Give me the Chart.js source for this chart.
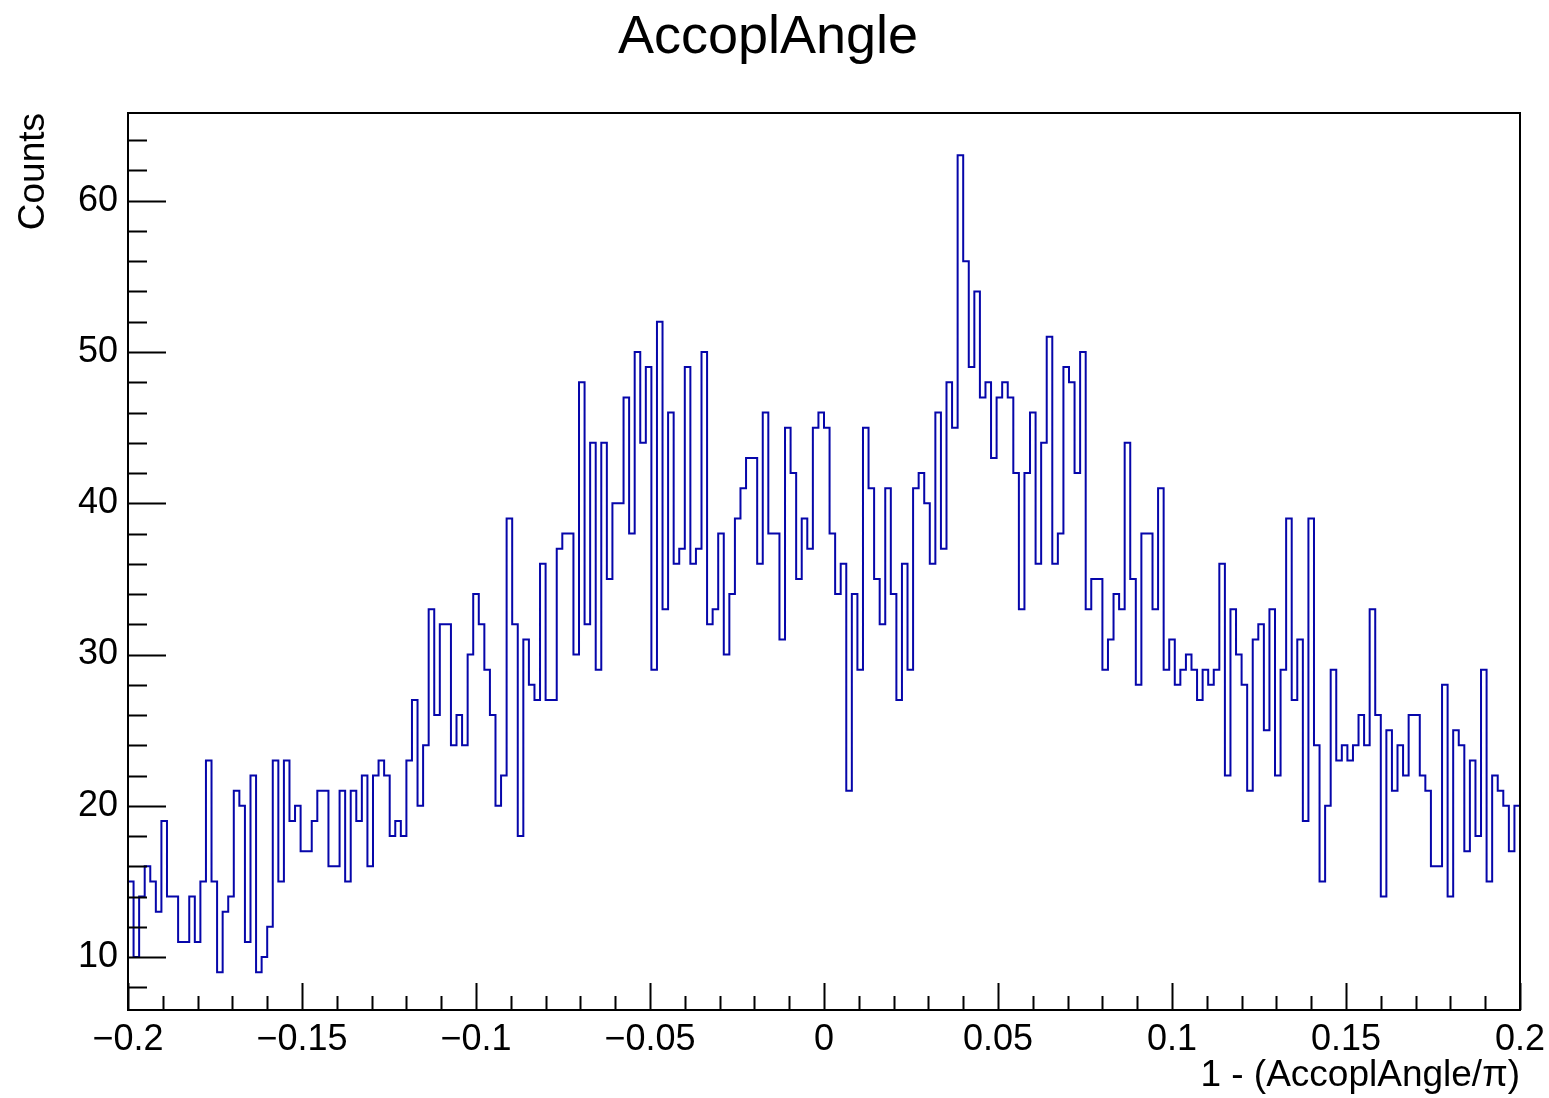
<!DOCTYPE html>
<html>
<head>
<meta charset="utf-8">
<script src="https://cdn.jsdelivr.net/npm/chart.js@4.4.0/dist/chart.umd.min.js"></script>
<style>
  html, body { margin: 0; padding: 0; background: #fff; }
  #wrap { width: 1549px; height: 1098px; }
</style>
</head>
<body>
<div id="wrap"><canvas id="histo" width="1549" height="1098"></canvas></div>
<script>
// histogram binning
const xMin = -0.2, xMax = 0.2, nBins = 250;

// bin contents, read bin by bin from the plot
const counts = [
    15, 10, 14, 16, 15, 13, 19, 14, 14, 11, 11, 14, 11, 15, 23, 15, 9, 13, 14, 21, 20, 11,
    22, 9, 10, 12, 23, 15, 23, 19, 20, 17, 17, 19, 21, 21, 16, 16, 21, 15, 21, 19,
    22, 16, 22, 23, 22, 18, 19, 18, 23, 27, 20, 24, 33, 26, 32, 32, 24, 26, 24, 30, 34,
    32, 29, 26, 20, 22, 39, 32, 18, 31, 28, 27, 36, 27, 27, 37, 38, 38, 30, 48, 32, 44,
    29, 44, 35, 40, 40, 47, 38, 50, 44, 49, 29, 52, 33, 46, 36, 37, 49, 36, 37, 50,
    32, 33, 38, 30, 34, 39, 41, 43, 43, 36, 46, 38, 38, 31, 45, 42, 35, 39, 37, 45, 46,
    45, 38, 34, 36, 21, 34, 29, 45, 41, 35, 32, 41, 34, 27, 36, 29, 41, 42, 40, 36, 46,
    37, 48, 45, 63, 56, 49, 54, 47, 48, 43, 47, 48, 47, 42, 33, 42, 46, 36, 44, 51,
    36, 38, 49, 48, 42, 50, 33, 35, 35, 29, 31, 34, 33, 44, 35, 28, 38, 38, 33, 41, 29,
    31, 28, 29, 30, 29, 27, 29, 28, 29, 36, 22, 33, 30, 28, 21, 31, 32, 25, 33, 22,
    29, 39, 27, 31, 19, 39, 24, 15, 20, 29, 23, 24, 23, 24, 26, 24, 33, 26, 14, 25, 21,
    24, 22, 26, 26, 22, 21, 16, 16, 28, 14, 25, 24, 17, 23, 18, 29, 15, 22, 21, 20, 17, 20
];

// axis ticks and labels
const xMajorTicks = [-0.2, -0.15, -0.1, -0.05, 0, 0.05, 0.1, 0.15, 0.2];
const xTickLabels = ['\u22120.2', '\u22120.15', '\u22120.1', '\u22120.05', '0', '0.05', '0.1', '0.15', '0.2'];
const xMinorStep = 0.01;
const yMin = 6.5, yMax = 65.8;
const yMajorTicks = [10, 20, 30, 40, 50, 60];
const yTickLabels = ['10', '20', '30', '40', '50', '60'];
const yMinorStep = 2;

const FONT = "'Liberation Sans', Arial, Helvetica, sans-serif";
const LINE_COLOR = '#0606aa';

// step outline points: one per bin edge, last point closes the final bin
const binWidth = (xMax - xMin) / nBins;
const points = [];
for (let i = 0; i <= nBins; i++) {
    points.push({ x: xMin + i * binWidth, y: counts[Math.min(i, nBins - 1)] });
}

// ROOT-like frame with inward ticks
const framePlugin = {
    id: 'rootFrame',
    afterDraw(chart) {
        const ctx = chart.ctx;
        const a = chart.chartArea;
        const xs = chart.scales.x, ys = chart.scales.y;
        ctx.save();
        ctx.strokeStyle = '#000';
        ctx.lineWidth = 2;
        ctx.strokeRect(a.left, a.top, a.right - a.left, a.bottom - a.top);

        ctx.beginPath();
        // x ticks (bottom, pointing up)
        for (let k = 0; k <= Math.round((xMax - xMin) / xMinorStep); k++) {
            const v = xMin + k * xMinorStep;
            const px = Math.round(xs.getPixelForValue(v)) + 0.5;
            const major = k % 5 === 0;
            ctx.moveTo(px, a.bottom);
            ctx.lineTo(px, a.bottom - (major ? 27 : 14));
        }
        // y ticks (left, pointing right)
        for (let v = 8; v <= yMax; v += yMinorStep) {
            const py = Math.round(ys.getPixelForValue(v)) + 0.5;
            const major = v % 10 === 0;
            ctx.moveTo(a.left, py);
            ctx.lineTo(a.left + (major ? 38 : 19), py);
        }
        ctx.stroke();

        // histogram title
        ctx.fillStyle = '#000';
        ctx.font = '54px ' + FONT;
        ctx.textAlign = 'center';
        ctx.textBaseline = 'middle';
        ctx.fillText('AccoplAngle', 768, 38);
        ctx.restore();
    }
};

const ctx = document.getElementById('histo').getContext('2d');
new Chart(ctx, {
    type: 'line',
    data: {
        datasets: [{
            label: 'AccoplAngle',
            data: points,
            stepped: 'before',
            borderColor: LINE_COLOR,
            borderWidth: 2,
            pointRadius: 0,
            fill: false
        }]
    },
    options: {
        responsive: false,
        animation: false,
        devicePixelRatio: 1,
        layout: { padding: { top: 113, right: 29, left: 0, bottom: 0 } },
        plugins: {
            legend: { display: false },
            tooltip: { enabled: false },
            title: { display: false }
        },
        scales: {
            x: {
                type: 'linear',
                min: xMin,
                max: xMax,
                afterBuildTicks: s => { s.ticks = xMajorTicks.map(v => ({ value: v })); },
                afterFit: s => { s.height = 88; s.paddingLeft = 0; s.paddingRight = 0; },
                grid: { display: false, drawTicks: false },
                border: { display: false },
                ticks: {
                    autoSkip: false,
                    maxRotation: 0,
                    padding: 8,
                    color: '#000',
                    font: { family: FONT, size: 36 },
                    callback: (v, i) => xTickLabels[i]
                },
                title: {
                    display: true,
                    text: '1 - (AccoplAngle/\u03c0)',
                    align: 'end',
                    color: '#000',
                    font: { family: FONT, size: 37 },
                    padding: { top: 0, bottom: 0 }
                }
            },
            y: {
                type: 'linear',
                min: yMin,
                max: yMax,
                afterBuildTicks: s => { s.ticks = yMajorTicks.map(v => ({ value: v })); },
                afterFit: s => { s.width = 128; s.paddingTop = 0; s.paddingBottom = 0; },
                grid: { display: false, drawTicks: false },
                border: { display: false },
                ticks: {
                    padding: 10,
                    color: '#000',
                    font: { family: FONT, size: 36 },
                    callback: (v, i) => yTickLabels[i]
                },
                title: {
                    display: true,
                    text: 'Counts',
                    align: 'end',
                    color: '#000',
                    font: { family: FONT, size: 37 },
                    padding: { top: 12, bottom: 0 }
                }
            }
        }
    },
    plugins: [framePlugin]
});
</script>
</body>
</html>
